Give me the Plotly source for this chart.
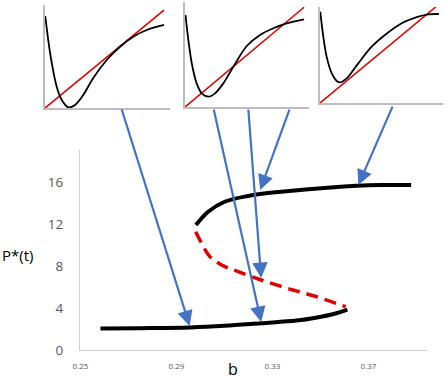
import plotly.graph_objects as go

W, H = 447, 391

# ---------------- main chart data ----------------
b_lower = [0.2583, 0.2750, 0.2958, 0.3100, 0.3253, 0.3400, 0.3486, 0.3555, 0.3612]
p_lower = [2.05, 2.08, 2.15, 2.30, 2.55, 2.80, 3.10, 3.43, 3.85]

b_upper = [0.2981, 0.3032, 0.3101, 0.3198, 0.3336, 0.3543, 0.3750, 0.3878]
p_upper = [11.90, 13.17, 14.12, 14.67, 15.08, 15.49, 15.71, 15.71]

b_unstable = [0.2980, 0.3005, 0.3039, 0.3088, 0.3157, 0.3253, 0.3363, 0.3474, 0.3605]
p_unstable = [11.27, 10.16, 8.89, 8.10, 7.46, 6.67, 5.87, 5.14, 4.13]

y_ticks = [0, 4, 8, 12, 16]
x_ticks = [0.25, 0.29, 0.33, 0.37]
x_tick_labels = ["0.25", "0.29", "0.33", "0.37"]

# arrows: head (b, P) on the bifurcation diagram, tail (b, P) at the insets
arrow_head_b = [0.2955, 0.3253, 0.3253, 0.3249, 0.3658]
arrow_head_p = [2.29, 2.67, 6.86, 15.24, 15.71]
arrow_tail_b = [0.2670, 0.3054, 0.3199, 0.3373, 0.3803]
arrow_tail_p = [23.05, 23.05, 23.05, 23.05, 23.33]

# ---------------- inset data (normalised) ----------------
inset1_x = [0.002, 0.026, 0.054, 0.094, 0.134, 0.186, 0.24, 0.306, 0.386, 0.494, 0.60, 0.706, 0.814, 0.952]
inset1_y = [0.893, 0.66, 0.437, 0.204, 0.078, 0.007, 0.029, 0.126, 0.291, 0.466, 0.595, 0.692, 0.757, 0.806]
inset1_line_x = [0.0, 0.952]
inset1_line_y = [0.0, 0.951]

inset2_x = [0.004, 0.027, 0.054, 0.094, 0.135, 0.188, 0.242, 0.309, 0.39, 0.498, 0.605, 0.712, 0.82, 0.96]
inset2_y = [0.876, 0.638, 0.419, 0.225, 0.13, 0.098, 0.13, 0.225, 0.384, 0.581, 0.686, 0.75, 0.797, 0.835]
inset2_line_x = [0.0, 0.96]
inset2_line_y = [0.0, 0.95]

inset3_x = [0.002, 0.027, 0.054, 0.095, 0.136, 0.163, 0.217, 0.311, 0.42, 0.528, 0.664, 0.799, 0.88, 0.967]
inset3_y = [0.951, 0.69, 0.483, 0.31, 0.229, 0.215, 0.257, 0.413, 0.586, 0.708, 0.83, 0.899, 0.924, 0.927]
inset3_line_x = [0.0, 0.941]
inset3_line_y = [0.0, 1.0]

insets = [
    (inset1_x, inset1_y, inset1_line_x, inset1_line_y),
    (inset2_x, inset2_y, inset2_line_x, inset2_line_y),
    (inset3_x, inset3_y, inset3_line_x, inset3_line_y),
]
# pixel boxes (left, right, top, bottom) for the insets
inset_boxes = [(45, 170, 5, 108), (185, 309, 2, 107), (320, 443, 7, 103)]

BLUE = "#4472C4"
RED = "#E00000"
GREY = "#595959"


def px_x(a, b):
    return [a / W, b / W]


def px_y(top, bottom):
    return [(H - bottom) / H, (H - top) / H]


fig = go.Figure()

# main curves
fig.add_trace(go.Scatter(x=b_lower, y=p_lower, mode="lines", line=dict(color="black", width=4, shape="spline"),
                         xaxis="x", yaxis="y", showlegend=False, hoverinfo="skip"))
fig.add_trace(go.Scatter(x=b_upper, y=p_upper, mode="lines", line=dict(color="black", width=4, shape="spline"),
                         xaxis="x", yaxis="y", showlegend=False, hoverinfo="skip"))
fig.add_trace(go.Scatter(x=b_unstable, y=p_unstable, mode="lines",
                         line=dict(color=RED, width=3.5, dash="12px,7px", shape="spline"),
                         xaxis="x", yaxis="y", showlegend=False, hoverinfo="skip"))

# insets
for i, (cx, cy, lx, ly) in enumerate(insets):
    n = i + 2
    fig.add_trace(go.Scatter(x=lx, y=ly, mode="lines", line=dict(color=RED, width=1.6),
                             xaxis=f"x{n}", yaxis=f"y{n}", showlegend=False, hoverinfo="skip",
                             cliponaxis=False))
    fig.add_trace(go.Scatter(x=cx, y=cy, mode="lines", line=dict(color="black", width=1.8, shape="spline",
                                                                 smoothing=0.9),
                             xaxis=f"x{n}", yaxis=f"y{n}", showlegend=False, hoverinfo="skip",
                             cliponaxis=False))

layout = dict(
    width=W, height=H,
    margin=dict(l=0, r=0, t=0, b=0, pad=0, autoexpand=False),
    paper_bgcolor="white", plot_bgcolor="white",
    font=dict(family="Open Sans", color=GREY),
    xaxis=dict(domain=px_x(80, 427), range=[0.2498, 0.3944], showgrid=False, zeroline=False,
               showline=True, linecolor="#d0d0d0", linewidth=1.3, tickmode="array",
               tickvals=x_ticks, ticktext=x_tick_labels, ticks="", tickfont=dict(size=8, color=GREY),
               ticklabelstandoff=8, fixedrange=True, automargin=False),
    yaxis=dict(domain=px_y(150, 350), range=[0, 19.05], showgrid=False, zeroline=False,
               showline=True, linecolor="#d0d0d0", linewidth=1.3, tickmode="array",
               tickvals=y_ticks, ticks="", tickfont=dict(size=13.5, color=GREY),
               ticklabelstandoff=13, fixedrange=True, automargin=False),
)
for i, (l, r, t, bt) in enumerate(inset_boxes):
    n = i + 2
    layout[f"xaxis{n}"] = dict(domain=px_x(l, r), range=[0, 1], showgrid=False, zeroline=False,
                               showline=True, linecolor="#bdbdbd", linewidth=1.5, showticklabels=False,
                               ticks="", anchor=f"y{n}", fixedrange=True, automargin=False)
    layout[f"yaxis{n}"] = dict(domain=px_y(t, bt), range=[0, 1], showgrid=False, zeroline=False,
                               showline=True, linecolor="#bdbdbd", linewidth=1.5, showticklabels=False,
                               ticks="", anchor=f"x{n}", fixedrange=True, automargin=False)
fig.update_layout(**layout)

annotations = []
for hb, hp, tb, tp in zip(arrow_head_b, arrow_head_p, arrow_tail_b, arrow_tail_p):
    annotations.append(dict(x=hb, y=hp, ax=tb, ay=tp, xref="x", yref="y", axref="x", ayref="y",
                            showarrow=True, arrowhead=2, arrowsize=1.4, arrowwidth=2.2,
                            arrowcolor=BLUE, text=""))
annotations.append(dict(x=0, y=(H - 267) / H, xref="paper", yref="paper", text="P*(t)",
                        xanchor="left", showarrow=False,
                        font=dict(size=15, color="black", family="Open Sans")))
annotations.append(dict(x=233 / W, y=(H - 382) / H, xref="paper", yref="paper", text="b",
                        showarrow=False, font=dict(size=16, color="black", family="Open Sans")))
fig.update_layout(annotations=annotations)

fig.write_html("out.html", config={"displayModeBar": False},
               post_script="document.body.style.margin='0';document.body.style.padding='0';")
